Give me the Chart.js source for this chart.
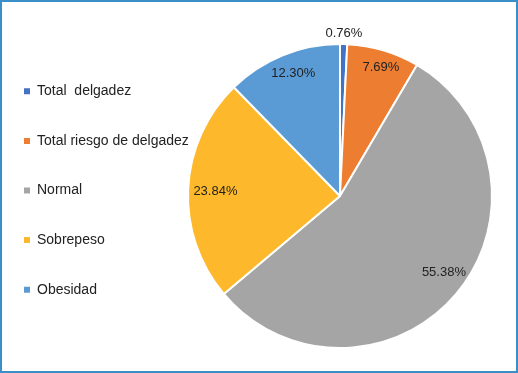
<!DOCTYPE html>
<html lang="es">
  <head>
    <meta charset="UTF-8" />
    <title>Estado nutricional</title>
    <style>
      body {
        margin: 0;
        background: #fff;
      }
      #wrap {
        position: relative;
        width: 518px;
        height: 373px;
      }
      #frame {
        position: absolute;
        inset: 0;
        border: 2px solid #3a8fc8;
        pointer-events: none;
      }
      canvas {
        display: block;
      }
    </style>
  </head>
  <body>
    <div id="wrap">
      <canvas id="pieChart" width="518" height="373"></canvas>
      <div id="frame"></div>
    </div>
    <script src="https://cdn.jsdelivr.net/npm/chart.js"></script>
    <script>
      const categories = [
        "Total  delgadez",
        "Total riesgo de delgadez",
        "Normal",
        "Sobrepeso",
        "Obesidad",
      ];
      const percents = [0.76, 7.69, 55.38, 23.84, 12.3];
      const colors = ["#4472c4", "#ed7d31", "#a5a5a5", "#fdb92b", "#5b9bd5"];

      // where each percentage sits: fraction of the radius, angle nudge in degrees
      const labelRadius = [1.07, 0.89, 0.85, 0.82, 0.86];
      const labelNudge = [0, 1, -3.7, -0.9, 1.2];

      const FONT = '"Liberation Sans", Arial, sans-serif';

      // legend: fixed width and small shift so it lines up like the original
      const legendPlace = {
        id: "legendPlace",
        beforeLayout(chart) {
          const lg = chart.legend;
          if (lg && !lg._patched) {
            const fit = lg.fit;
            lg.fit = function () {
              fit.call(this);
              this.width = 187;
            };
            lg._patched = true;
          }
        },
        afterLayout(chart) {
          const lg = chart.legend;
          lg.left -= 11.6;
          lg.right += 20;
          lg.width = lg.right - lg.left;
          lg.top -= 5.5;
          lg.bottom -= 5.5;
        },
      };

      const sliceLabels = {
        id: "sliceLabels",
        afterDatasetsDraw(chart) {
          const ctx = chart.ctx;
          const meta = chart.getDatasetMeta(0);
          ctx.save();
          ctx.font = "13px " + FONT;
          ctx.fillStyle = "#222";
          ctx.textAlign = "center";
          ctx.textBaseline = "middle";
          meta.data.forEach((arc, i) => {
            const p = arc.getProps(
              ["x", "y", "startAngle", "endAngle", "outerRadius"],
              true
            );
            const mid =
              (p.startAngle + p.endAngle) / 2 + (labelNudge[i] * Math.PI) / 180;
            const r = p.outerRadius * labelRadius[i];
            ctx.fillText(
              percents[i].toFixed(2) + "%",
              p.x + Math.cos(mid) * r,
              p.y + Math.sin(mid) * r
            );
          });
          ctx.restore();
        },
      };

      const baseLabels =
        Chart.overrides.doughnut.plugins.legend.labels.generateLabels;

      new Chart(document.getElementById("pieChart"), {
        type: "pie",
        data: {
          labels: categories,
          datasets: [
            {
              data: percents,
              backgroundColor: colors,
              borderColor: "#fff",
              borderWidth: 2,
            },
          ],
        },
        options: {
          responsive: false,
          animation: false,
          layout: { padding: { top: 43, bottom: 24, right: 25, left: 0 } },
          plugins: {
            tooltip: { enabled: false },
            legend: {
              position: "left",
              align: "center",
              labels: {
                boxWidth: 6,
                boxHeight: 6,
                padding: 35.6,
                color: "#222",
                font: { size: 14, family: FONT },
                generateLabels: (chart) =>
                  baseLabels(chart).map((l) => ({ ...l, lineWidth: 0 })),
              },
            },
          },
        },
        plugins: [legendPlace, sliceLabels],
      });
    </script>
  </body>
</html>
